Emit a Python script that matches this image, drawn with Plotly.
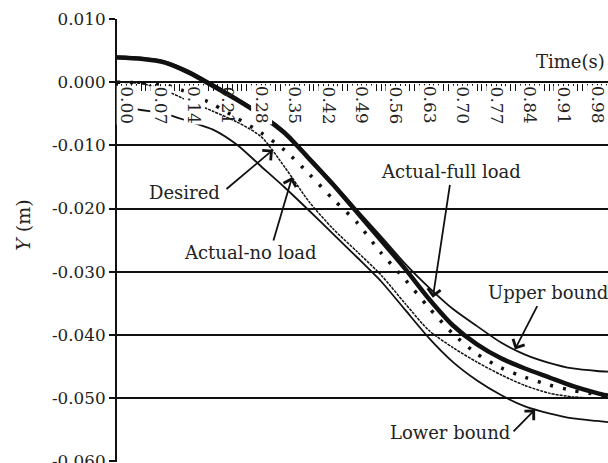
import plotly.graph_objects as go

# Sample instants (s) and measured / bounding trajectories (m)
time_s = [0.00, 0.05, 0.10, 0.15, 0.20, 0.25, 0.30, 0.35, 0.40, 0.45, 0.50,
          0.55, 0.60, 0.65, 0.70, 0.75, 0.80, 0.85, 0.90, 0.95, 1.00, 1.023]

desired = [0.0000, -0.0001, -0.0004, -0.0017, -0.0035, -0.0057, -0.0080, -0.0108,
           -0.0145, -0.0185, -0.0222, -0.0270, -0.0312, -0.0357, -0.0398, -0.0430,
           -0.0452, -0.0467, -0.0479, -0.0488, -0.0494, -0.0496]

actual_no_load = [0.0000, -0.0002, -0.0013, -0.0030, -0.0046, -0.0063, -0.0086, -0.0135,
                  -0.0189, -0.0232, -0.0268, -0.0305, -0.0350, -0.0393, -0.0420, -0.0443,
                  -0.0463, -0.0480, -0.0492, -0.0498, -0.0500, -0.0500]

actual_full_load = [0.0039, 0.0037, 0.0031, 0.0015, -0.0006, -0.0028, -0.0052, -0.0081,
                    -0.0121, -0.0162, -0.0206, -0.0250, -0.0295, -0.0343, -0.0385, -0.0415,
                    -0.0437, -0.0453, -0.0467, -0.0481, -0.0492, -0.0496]

upper_bound = [0.0041, 0.0039, 0.0033, 0.0018, -0.0003, -0.0025, -0.0049, -0.0078,
               -0.0118, -0.0159, -0.0202, -0.0244, -0.0287, -0.0325, -0.0359, -0.0386,
               -0.0412, -0.0431, -0.0444, -0.0453, -0.0457, -0.0458]

lower_bound = [-0.0040, -0.0044, -0.0050, -0.0062, -0.0075, -0.0099, -0.0133, -0.0167,
               -0.0203, -0.0240, -0.0277, -0.0315, -0.0360, -0.0405, -0.0443, -0.0472,
               -0.0495, -0.0513, -0.0524, -0.0532, -0.0536, -0.0538]

# Axis ticks
time_ticks = [0.00, 0.07, 0.14, 0.21, 0.28, 0.35, 0.42, 0.49, 0.56, 0.63, 0.70,
              0.77, 0.84, 0.91, 0.98]
time_tick_labels = ["0.00", "0.07", "0.14", "0.21", "0.28", "0.35", "0.42", "0.49",
                    "0.56", "0.63", "0.70", "0.77", "0.84", "0.91", "0.98"]
y_ticks = [0.010, 0.000, -0.010, -0.020, -0.030, -0.040, -0.050, -0.060]
y_tick_labels = ["0.010", "0.000", "-0.010", "-0.020", "-0.030", "-0.040", "-0.050", "-0.060"]

INK = "#111111"
TEXT = "#222222"
SERIF = "DejaVu Serif"

fig = go.Figure()

series = [
    ("Lower bound", lower_bound, 1.8, "solid"),
    ("Upper bound", upper_bound, 1.8, "solid"),
    ("Actual-no load", actual_no_load, 1.5, "3px,1px"),
    ("Desired", desired, 3.5, "3px,10px"),
    ("Actual-full load", actual_full_load, 4.5, "solid"),
]
for name, values, width, dash in series:
    fig.add_trace(go.Scatter(
        x=time_s, y=values, mode="lines", name=name,
        line=dict(color=INK, width=width, dash=dash, shape="spline", smoothing=0.7),
        showlegend=False, hoverinfo="skip",
    ))

annotations = []

# Time tick labels sit on the zero line; most have a white ground that
# interrupts the curves, the one under the steep full-load stretch stays clear
clear_ground = {"0.21"}
for tv, tl in zip(time_ticks, time_tick_labels):
    annotations.append(dict(
        x=tv, y=0, xref="x", yref="y", text=tl, showarrow=False,
        textangle=90, xanchor="center", yanchor="top", xshift=10, yshift=-3,
        bgcolor="rgba(0,0,0,0)" if tl in clear_ground else "white", borderpad=0,
        font=dict(family=SERIF, size=17, color=TEXT),
    ))

# Curve labels
labels = [
    ("Desired", 0.140, -0.0174),
    ("Actual-no load", 0.277, -0.0270),
    ("Actual-full load", 0.696, -0.0142),
    ("Upper bound", 0.898, -0.0333),
    ("Lower bound", 0.694, -0.0555),
]
for text, x, y in labels:
    annotations.append(dict(
        x=x, y=y, xref="x", yref="y", text=text, showarrow=False,
        font=dict(family=SERIF, size=18, color=TEXT),
    ))

# Leader arrows: (tail x, tail y, head x, head y)
arrows = [
    (0.225, -0.0171, 0.325, -0.0107),
    (0.325, -0.0253, 0.365, -0.0150),
    (0.694, -0.0160, 0.658, -0.0341),
    (0.877, -0.0352, 0.829, -0.0423),
    (0.823, -0.0555, 0.871, -0.0518),
]
for ax, ay, hx, hy in arrows:
    annotations.append(dict(
        x=hx, y=hy, ax=ax, ay=ay, xref="x", yref="y", axref="x", ayref="y",
        text="", showarrow=True, arrowhead=4, arrowsize=1.4, arrowwidth=1.8,
        arrowcolor=INK,
    ))

# Axis titles
annotations.append(dict(
    x=1, y=0.0032, xref="paper", yref="y", text="Time(s)", showarrow=False,
    xanchor="right", xshift=-1, font=dict(family=SERIF, size=18, color=TEXT),
))
annotations.append(dict(
    x=-0.192, y=0.535, xref="paper", yref="paper", text="<i>Y</i> (m)",
    xanchor="center", yanchor="middle",
    showarrow=False, textangle=-90, font=dict(family=SERIF, size=19, color=TEXT),
))

fig.update_layout(
    width=608, height=463,
    margin=dict(l=117, r=0, t=19, b=1, autoexpand=False),
    paper_bgcolor="white", plot_bgcolor="white",
    showlegend=False,
    annotations=annotations,
    xaxis=dict(
        range=[0, 1.0229], anchor="free", position=0.06 / 0.0701,
        showgrid=False, zeroline=False, showline=False, automargin=False,
        tickvals=time_ticks, showticklabels=False,
        ticks="outside", ticklen=7, tickwidth=1, tickcolor=INK,
        minor=dict(tickmode="linear", tick0=0, dtick=0.01, ticks="outside",
                   ticklen=7, tickwidth=1, tickcolor=INK, showgrid=False),
    ),
    yaxis=dict(
        range=[-0.0601, 0.010], tickvals=y_ticks, ticktext=y_tick_labels,
        showgrid=True, gridcolor=INK, gridwidth=2, zeroline=False,
        showline=True, linecolor=INK, linewidth=2, automargin=False,
        ticks="outside", ticklen=6, tickwidth=2, tickcolor=INK,
        ticklabeloverflow="allow",
        tickfont=dict(family=SERIF, size=16.8, color=TEXT),
    ),
)

fig.write_html("out.html")
